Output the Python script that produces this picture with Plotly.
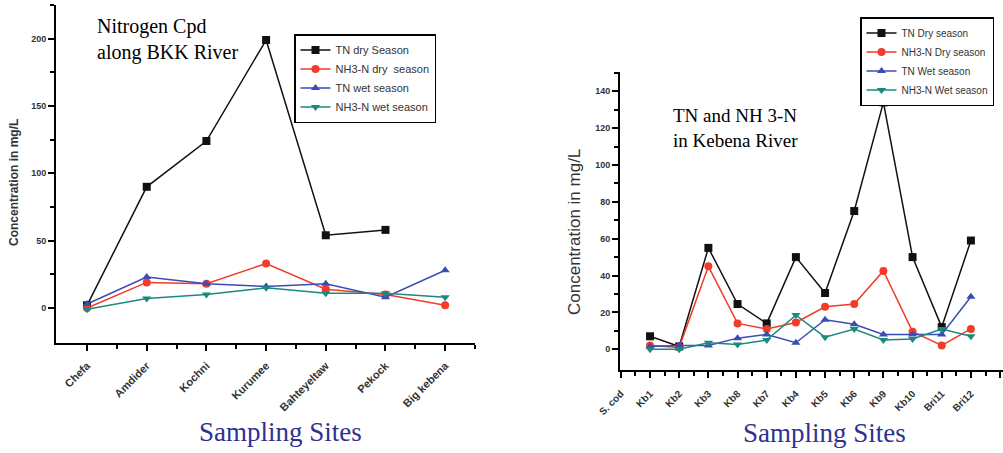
import plotly.graph_objects as go

# ---- Left chart data (BKK River) ----
left_sites = ["Chefa", "Amdider", "Kochni", "Kurumee", "Bahteyeltaw", "Pekock", "Big kebena"]
left_tn_dry = [2, 90, 124, 199, 54, 58, None]
left_nh3_dry = [0, 19, 18, 33, 14, 10, 2]
left_tn_wet = [3, 23, 18, 16, 18, 8, 28]
left_nh3_wet = [-1, 7, 10, 15, 11, 11, 8]

# ---- Right chart data (Kebena River) ----
right_sites = ["S. cod", "Kb1", "Kb2", "Kb3", "Kb8", "Kb7", "Kb4", "Kb5", "Kb6", "Kb9", "Kb10", "Bri11", "Bri12", "-"]
right_tn_dry = [None, 7, 1.5, 55, 24.5, 14, 50, 30.5, 75, 134, 50, 12, 59, None]
right_nh3_dry = [None, 2, 1, 45, 14, 11, 14.5, 23, 24.5, 42.5, 9.5, 2, 11, None]
right_tn_wet = [None, 1.5, 2, 2, 6, 8, 3.5, 16, 13.5, 8, 8, 8, 28.5, None]
right_nh3_wet = [None, 0, 0, 3.5, 2.5, 5, 18.5, 6.5, 11, 5, 5.5, 11, 7, None]

left_names = ["TN dry Season", "NH3-N dry  season", "TN wet season", "NH3-N wet season"]
right_names = ["TN Dry season", "NH3-N Dry season", "TN Wet season", "NH3-N Wet season"]

colors = ["#111111", "#f23b2a", "#3a4db3", "#1b8a7e"]
symbols = ["square", "circle", "triangle-up", "triangle-down"]

fig = go.Figure()

left_x = list(range(len(left_sites)))
right_x = list(range(len(right_sites)))

for i, ys in enumerate([left_tn_dry, left_nh3_dry, left_tn_wet, left_nh3_wet]):
    fig.add_trace(go.Scatter(
        x=left_x, y=ys, name=left_names[i], mode="lines+markers",
        line=dict(color=colors[i], width=1.5),
        marker=dict(symbol=symbols[i], size=8, color=colors[i]),
        xaxis="x", yaxis="y", legend="legend", connectgaps=False))

for i, ys in enumerate([right_tn_dry, right_nh3_dry, right_tn_wet, right_nh3_wet]):
    fig.add_trace(go.Scatter(
        x=right_x, y=ys, name=right_names[i], mode="lines+markers",
        line=dict(color=colors[i], width=1.5),
        marker=dict(symbol=symbols[i], size=8, color=colors[i]),
        xaxis="x2", yaxis="y2", legend="legend2", connectgaps=False))

W, H = 1003, 453

def px_x(p):
    return p / W

def px_y(p):
    return 1 - p / H

ytickfont = dict(family="Arial", size=9, color="#333333", weight="bold")
lxtickfont = dict(family="Arial", size=11, color="#333333", weight="bold")
rxtickfont = dict(family="Arial", size=10, color="#333333", weight="bold")
axis_common = dict(showline=True, linecolor="black", linewidth=2, ticks="outside",
                   tickcolor="black", tickwidth=2, showgrid=False, zeroline=False,
                   mirror=False, automargin=False)

fig.update_layout(
    width=W, height=H,
    margin=dict(l=0, r=0, t=0, b=0, autoexpand=False),
    paper_bgcolor="white", plot_bgcolor="white",
    showlegend=True,
    xaxis=dict(domain=[px_x(56), px_x(475)], range=[-0.52, 6.5], anchor="y",
               tickvals=left_x, ticktext=left_sites, tickangle=-45, ticklen=6,
               tickfont=lxtickfont, ticklabelstandoff=4,
               minor=dict(ticks="outside", tickvals=[v + 0.5 for v in left_x[:-1]] + [6.5],
                          ticklen=4, tickcolor="black", tickwidth=2),
               **axis_common),
    yaxis=dict(domain=[px_y(343), px_y(5)], range=[-26, 225], anchor="x",
               tickvals=[0, 50, 100, 150, 200], ticklen=6, tickfont=ytickfont,
               minor=dict(ticks="outside", tickvals=[25, 75, 125, 175, 225],
                          ticklen=4, tickcolor="black", tickwidth=2),
               **axis_common),
    xaxis2=dict(domain=[px_x(620), 1.0], range=[-0.03, 13.1], anchor="y2",
                tickvals=right_x, ticktext=right_sites, tickangle=-45, ticklen=6,
                tickfont=rxtickfont, ticklabelstandoff=6,
                minor=dict(ticks="outside", tickvals=[v + 0.5 for v in right_x[:-1]],
                           ticklen=4, tickcolor="black", tickwidth=2),
                **axis_common),
    yaxis2=dict(domain=[px_y(370), px_y(72)], range=[-11.3, 150.5], anchor="x2",
                tickvals=[0, 20, 40, 60, 80, 100, 120, 140], ticklen=6, tickfont=ytickfont,
                minor=dict(ticks="outside", tickvals=[10, 30, 50, 70, 90, 110, 130, 150],
                           ticklen=4, tickcolor="black", tickwidth=2),
                **axis_common),
    legend=dict(x=px_x(294), y=px_y(34), xanchor="left", yanchor="top",
                bordercolor="black", borderwidth=1.5, bgcolor="white",
                font=dict(family="Arial", size=11, color="#333333"),
                itemwidth=30, tracegroupgap=0),
    legend2=dict(x=px_x(860), y=px_y(17), xanchor="left", yanchor="top",
                 bordercolor="black", borderwidth=1.5, bgcolor="white",
                 font=dict(family="Arial", size=10, color="#333333"),
                 itemwidth=30, tracegroupgap=0),
)

annotations = [
    dict(text="Nitrogen Cpd<br>along BKK River", x=px_x(95), y=px_y(13), xanchor="left",
         yanchor="top", align="left", showarrow=False,
         font=dict(family="Liberation Serif", size=20, color="black")),
    dict(text="TN and NH 3-N<br>in Kebena River", x=px_x(671), y=px_y(103), xanchor="left",
         yanchor="top", align="left", showarrow=False,
         font=dict(family="Liberation Serif", size=19, color="black")),
    dict(text="Concentration in mg/L", x=px_x(14), y=px_y(183), textangle=-90,
         xanchor="center", yanchor="middle",
         showarrow=False, font=dict(family="Arial", size=12, color="#333333", weight="bold")),
    dict(text="Concentration in mg/L", x=px_x(575), y=px_y(232), textangle=-90,
         xanchor="center", yanchor="middle",
         showarrow=False, font=dict(family="Arial", size=17, color="#333333")),
    dict(text="Sampling Sites", x=px_x(280), y=px_y(432), xanchor="center", yanchor="middle",
         showarrow=False, font=dict(family="Liberation Serif", size=27, color="#2e3192")),
    dict(text="Sampling Sites", x=px_x(824), y=px_y(433), xanchor="center", yanchor="middle",
         showarrow=False, font=dict(family="Liberation Serif", size=27, color="#2e3192")),
]
for a in annotations:
    a["xref"] = "paper"
    a["yref"] = "paper"
fig.update_layout(annotations=annotations)

fig.write_html("out.html")
